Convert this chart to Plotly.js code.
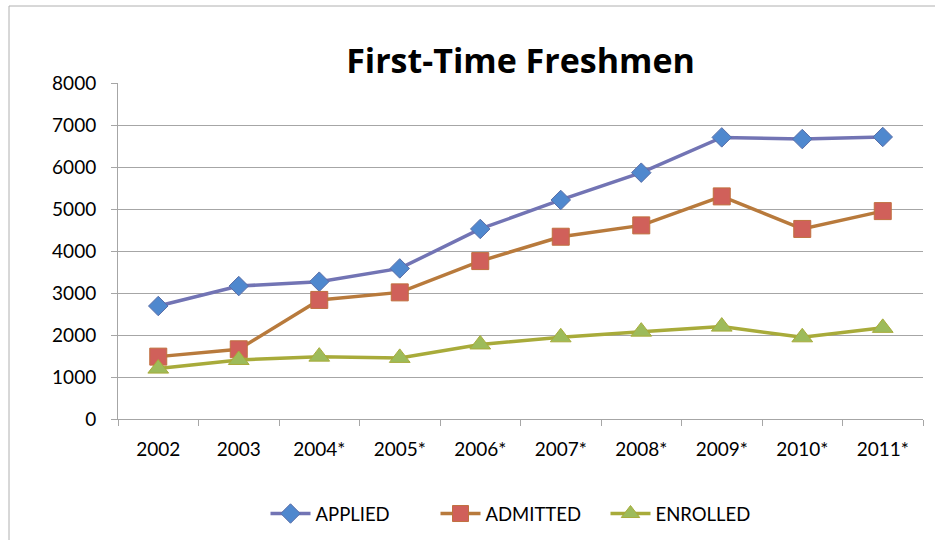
<!DOCTYPE html>
<html>
<head>
<meta charset="utf-8">
<script src="https://cdn.plot.ly/plotly-3.0.1.min.js"></script>
<style>
html, body { margin: 0; padding: 0; background: #ffffff; }
#chart { width: 935px; height: 540px; }
</style>
</head>
<body>
<div id="chart"></div>
<script>
const years = ["2002", "2003", "2004*", "2005*", "2006*", "2007*", "2008*", "2009*", "2010*", "2011*"];
const applied = [2690, 3165, 3270, 3585, 4525, 5215, 5865, 6705, 6665, 6715];
const admitted = [1485, 1660, 2835, 3015, 3760, 4340, 4610, 5300, 4525, 4950];
const enrolled = [1200, 1405, 1485, 1455, 1775, 1945, 2080, 2200, 1945, 2170];
const yTicks = [0, 1000, 2000, 3000, 4000, 5000, 6000, 7000, 8000];

const FONT = "Lato, 'Liberation Sans', sans-serif";
const TFONT = "'Open Sans', Lato, sans-serif";

const traces = [
  {
    name: "APPLIED", x: years, y: applied, type: "scatter", mode: "lines+markers",
    line: { color: "#7274B4", width: 3.5 },
    marker: { symbol: "diamond", size: 15, color: "#4F88CE", line: { color: "#5A6EA8", width: 1 } }
  },
  {
    name: "ADMITTED", x: years, y: admitted, type: "scatter", mode: "lines+markers",
    line: { color: "#B87A3C", width: 3.5 },
    marker: { symbol: "square", size: 17, color: "#D0605A", line: { color: "#C0703F", width: 1 } }
  },
  {
    name: "ENROLLED", x: years, y: enrolled, type: "scatter", mode: "lines+markers",
    line: { color: "#A8AB3A", width: 3.5 },
    marker: { symbol: "triangle-up", size: 18, color: "#9DBB5A", line: { color: "#A8AB3A", width: 1 } }
  }
];

const L = 118, R = 12, T = 83, B = 121, W = 935, H = 540;
const pw = W - L - R, ph = H - T - B;
const px = v => (v - L) / pw;
const py = v => (H - B - v) / ph;

const layout = {
  width: W, height: H,
  margin: { l: L, r: R, t: T, b: B, autoexpand: false },
  paper_bgcolor: "#ffffff",
  plot_bgcolor: "#ffffff",
  font: { family: FONT, color: "#000000", size: 19 },
  title: {
    text: "<b>First-Time Freshmen</b>",
    font: { family: TFONT, size: 34, color: "#000000" },
    x: 0.5, xref: "paper", xanchor: "center",
    y: 1 - 61 / H, yref: "container", yanchor: "middle"
  },
  showlegend: true,
  legend: {
    orientation: "h",
    x: 0.5, xanchor: "center", xref: "paper",
    y: 1 - 514 / H, yref: "container", yanchor: "middle",
    font: { family: FONT, size: 18.5, color: "#000000" },
    itemwidth: 40,
    entrywidth: 115,
    traceorder: "normal",
    bgcolor: "rgba(0,0,0,0)"
  },
  xaxis: {
    type: "category",
    categoryorder: "array", categoryarray: years,
    range: [-0.5, years.length - 0.5],
    autorange: false,
    showgrid: false,
    showline: true, linecolor: "#A6A6A6", linewidth: 1,
    ticks: "outside", tickson: "boundaries", ticklen: 6, tickcolor: "#A6A6A6",
    tickfont: { family: FONT, size: 19, color: "#000000" },
    ticklabelstandoff: 13,
    zeroline: false, fixedrange: true
  },
  yaxis: {
    range: [0, 8000],
    autorange: false,
    tickmode: "array", tickvals: yTicks, ticktext: yTicks.map(String),
    showgrid: true, gridcolor: "#A6A6A6", gridwidth: 1,
    showline: true, linecolor: "#A6A6A6", linewidth: 1,
    ticks: "outside", ticklen: 6, tickcolor: "#A6A6A6",
    tickfont: { family: FONT, size: 19, color: "#000000" },
    ticklabelstandoff: 11,
    zeroline: false, fixedrange: true
  },
  shapes: [
    {
      type: "rect", xref: "paper", yref: "paper",
      x0: px(9), x1: px(945), y0: py(550), y1: py(6),
      line: { color: "#B0B0B0", width: 1 }, fillcolor: "rgba(0,0,0,0)", layer: "below"
    }
  ]
};

Plotly.newPlot("chart", traces, layout, { displayModeBar: false, staticPlot: true });
</script>
</body>
</html>
